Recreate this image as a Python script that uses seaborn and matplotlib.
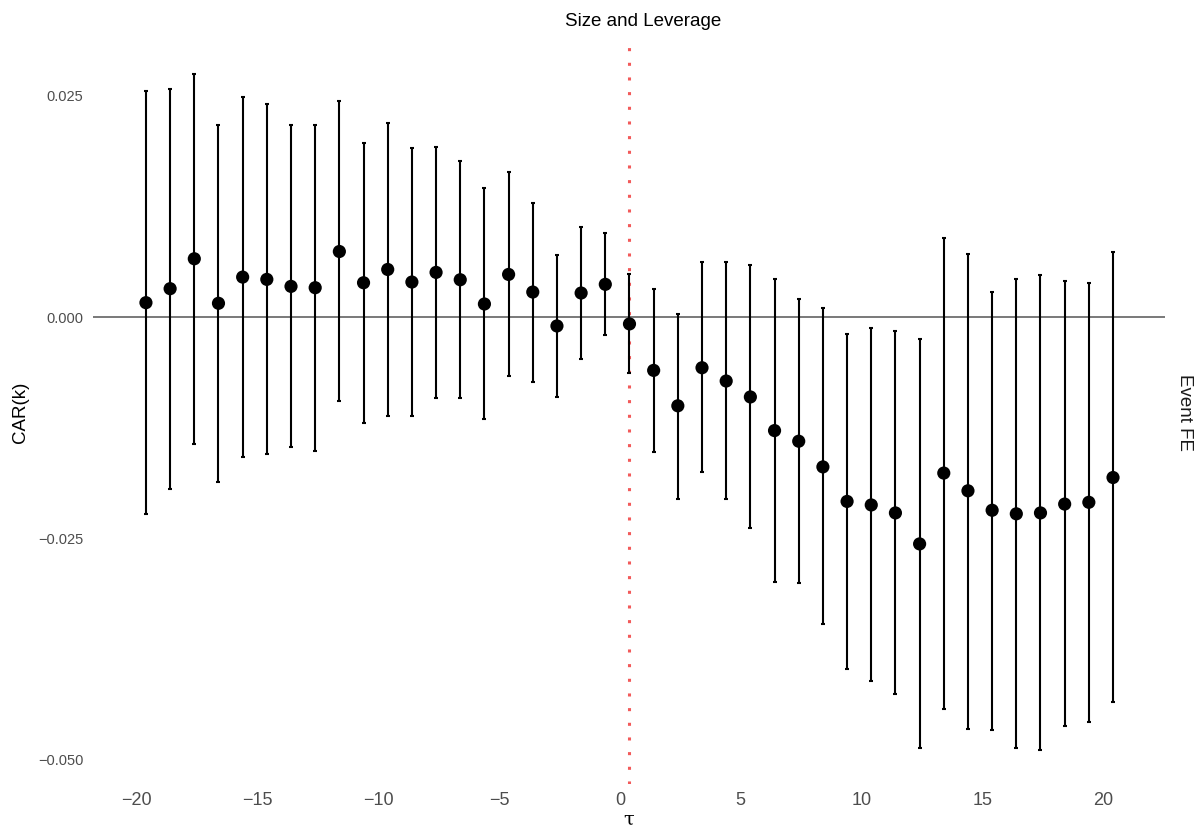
import numpy as np
import pandas as pd
import matplotlib
matplotlib.use("Agg")
import matplotlib.pyplot as plt
import seaborn as sns

################# Data #################
tau = list(range(-20, 21))

car = [0.00165, 0.00323, 0.00661, 0.00158, 0.00454, 0.00428, 0.00349, 0.00334,
       0.00743, 0.00390, 0.00540, 0.00398, 0.00507, 0.00424, 0.00150, 0.00484,
       0.00285, -0.00098, 0.00274, 0.00372, -0.00075,
       -0.0060, -0.0100, -0.0057, -0.0072, -0.0090, -0.0128, -0.0140, -0.0169,
       -0.0208, -0.0212, -0.0221, -0.0256, -0.0176, -0.0196, -0.0218, -0.0222,
       -0.0221, -0.0211, -0.0209, -0.0181]

ci_upper = [0.02556, 0.02583, 0.02750, 0.02177, 0.02489, 0.02406, 0.02170, 0.02177,
            0.02444, 0.01967, 0.02196, 0.01910, 0.01922, 0.01760, 0.01456, 0.01637,
            0.01295, 0.00706, 0.01021, 0.00949, 0.00484,
            0.00323, 0.00042, 0.0063, 0.0062, 0.0059, 0.0043, 0.0021, 0.00105,
            -0.0019, -0.0012, -0.0015, -0.0025, 0.0089, 0.0072, 0.00285, 0.00436,
            0.00476, 0.00409, 0.00386, 0.00735]

ci_lower = [-0.0222, -0.0194, -0.0143, -0.0186, -0.0158, -0.0155, -0.0147, -0.0151,
            -0.0095, -0.0119, -0.0111, -0.0111, -0.0091, -0.0091, -0.0115, -0.0066,
            -0.0073, -0.0090, -0.0047, -0.0020, -0.0063,
            -0.0152, -0.0205, -0.0175, -0.0205, -0.0238, -0.0299, -0.0300, -0.0347,
            -0.0397, -0.0411, -0.0426, -0.0486, -0.0442, -0.0465, -0.0466, -0.0486,
            -0.0489, -0.0462, -0.0457, -0.0435]

x_ticks = [-20, -15, -10, -5, 0, 5, 10, 15, 20]
y_ticks = [-0.050, -0.025, 0.000, 0.025]
y_tick_labels = ["\u22120.050", "\u22120.025", "0.000", "0.025"]
x_tick_labels = [str(v).replace("-", "\u2212") for v in x_ticks]

df = pd.DataFrame({"tau": tau, "car": car, "lo": ci_lower, "hi": ci_upper})

# points sit a little to the right of the integer ticks in the original
dodge = 0.4
df["pos"] = df["tau"] + dodge

################# Plot #################
sns.set_theme(style="white")
plt.rcParams["font.family"] = ["Liberation Sans", "DejaVu Sans"]

fig = plt.figure(figsize=(11.95, 8.27), dpi=100)
ax = fig.add_axes([93 / 1195, 1 - 784 / 827, (1165 - 93) / 1195, (784 - 40) / 827])

ax.axhline(0, color="#555555", lw=1.1, zorder=1)
ax.axvline(dodge, color="#F25A5A", lw=2.2, linestyle=(0, (1, 3.8)), zorder=1)

ax.errorbar(df["pos"], df["car"],
            yerr=[df["car"] - df["lo"], df["hi"] - df["car"]],
            fmt="none", ecolor="black", elinewidth=1.5, capsize=1.6, capthick=1.5,
            zorder=2)
sns.scatterplot(data=df, x="pos", y="car", color="black", s=90,
                edgecolor="none", ax=ax, zorder=3)

ax.set_xlim(-21.79, 22.55)
ax.set_ylim(-0.05272, 0.03132)
ax.set_xticks(x_ticks)
ax.set_xticklabels(x_tick_labels, fontsize=13, color="#4D4D4D")
ax.set_yticks(y_ticks)
ax.set_yticklabels(y_tick_labels, fontsize=10.5, color="#4D4D4D")
ax.tick_params(axis="x", length=0, pad=5.5)
ax.tick_params(axis="y", length=0, pad=7)
for s in ax.spines.values():
    s.set_visible(False)
ax.grid(False)

ax.set_xlabel("")
ax.set_ylabel("")
fig.text(629 / 1195, 1 - 820 / 827, "\u03c4", ha="center", va="center",
         fontsize=14, color="black", family=["DejaVu Serif"])
fig.text(21 / 1195, 1 - 412 / 827, "CAR(k)", ha="center", va="center",
         rotation=90, fontsize=13.5, color="black")
fig.text(1184 / 1195, 1 - 412 / 827, "Event FE", ha="center", va="center",
         rotation=-90, fontsize=13.5, color="#1A1A1A")
fig.text(643 / 1195, 1 - 21 / 827, "Size and Leverage", ha="center", va="center",
         fontsize=13.5, color="black")

plt.savefig("out.png", dpi=100)
plt.close()
